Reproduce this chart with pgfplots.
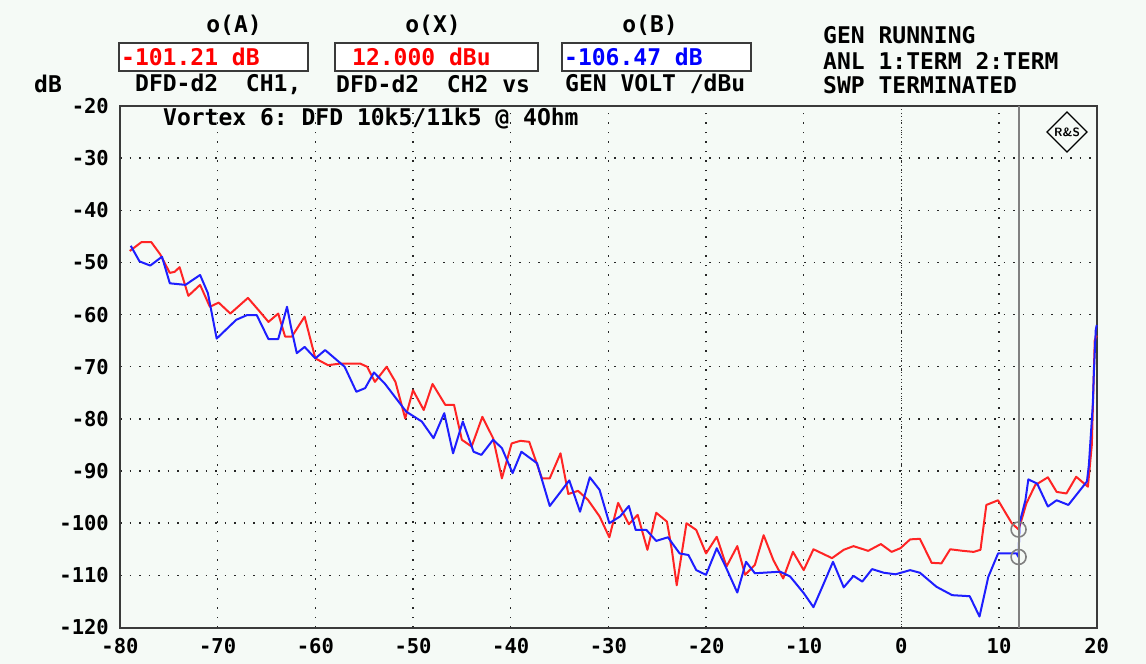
\documentclass[border=0pt]{standalone}
\usepackage{fontspec}
\setmonofont{DejaVu Sans Mono}
\usepackage{pgfplots}
\pgfplotsset{compat=1.18}
\definecolor{bgc}{HTML}{F5FAF6}
\definecolor{rdl}{HTML}{FF2424}
\definecolor{bll}{HTML}{1E1EFF}
\definecolor{frm}{HTML}{3A3A3A}

% measured curves (dB vs generator level in dBu)
\pgfplotstableread{
x y
-79.0 -47.8
-77.8 -46.1
-76.8 -46.1
-75.9 -48.4
-74.9 -52.0
-74.4 -51.8
-73.9 -50.9
-73.0 -56.4
-71.8 -54.3
-70.8 -58.5
-69.9 -57.7
-68.7 -59.8
-66.9 -56.8
-65.7 -59.4
-64.8 -61.4
-63.8 -59.8
-63.1 -64.2
-62.4 -64.2
-61.1 -60.4
-60.0 -68.4
-58.7 -69.7
-57.5 -69.4
-55.4 -69.4
-54.7 -70.0
-53.9 -72.9
-52.7 -70.0
-51.8 -72.9
-50.8 -79.9
-50.0 -74.5
-48.9 -78.3
-48.0 -73.3
-46.7 -77.3
-45.8 -77.3
-45.0 -84.0
-44.0 -85.3
-42.9 -79.6
-41.8 -83.7
-40.9 -91.4
-39.9 -84.7
-39.0 -84.2
-38.1 -84.4
-36.8 -91.4
-36.0 -91.4
-34.9 -86.6
-34.1 -94.4
-33.1 -93.8
-32.1 -95.5
-30.9 -98.7
-29.9 -102.7
-29.0 -96.1
-27.9 -100.2
-27.0 -98.4
-26.0 -105.1
-25.1 -98.0
-24.0 -99.7
-23.5 -105.1
-23.0 -111.9
-22.0 -100.0
-21.0 -101.3
-20.0 -105.8
-18.9 -102.6
-17.9 -108.3
-16.8 -104.4
-16.0 -109.9
-15.0 -108.0
-14.1 -102.3
-13.1 -107.1
-12.1 -110.6
-11.1 -105.5
-10.0 -109.0
-9.0 -105.0
-7.1 -106.7
-5.9 -105.1
-4.9 -104.4
-3.4 -105.3
-2.1 -104.0
-1.0 -105.5
-0.1 -104.8
0.9 -103.1
1.9 -103.0
3.1 -107.6
4.1 -107.7
5.0 -105.0
6.3 -105.3
7.4 -105.5
8.1 -105.1
8.7 -96.5
9.9 -95.6
11.3 -100.0
12.0 -101.2
12.3 -99.4
12.8 -96.2
13.7 -92.7
15.0 -91.2
15.9 -94.0
16.9 -94.3
17.9 -91.1
19.1 -93.0
19.5 -85.0
19.8 -64.9
20.0 -64.0
}\chone

\pgfplotstableread{
x y
-78.9 -46.8
-78.0 -49.8
-76.9 -50.6
-75.7 -48.9
-74.9 -54.0
-73.3 -54.3
-71.8 -52.4
-71.0 -55.9
-70.1 -64.6
-68.1 -61.0
-67.0 -60.1
-66.0 -60.1
-64.8 -64.7
-63.8 -64.7
-62.9 -58.5
-62.5 -62.3
-61.9 -67.4
-61.1 -66.2
-60.0 -68.4
-59.0 -66.8
-57.0 -70.0
-55.8 -74.8
-54.9 -74.1
-54.0 -71.1
-52.9 -73.2
-50.7 -78.6
-49.1 -80.5
-47.9 -83.7
-46.8 -78.9
-45.9 -86.6
-44.9 -80.5
-43.8 -86.3
-43.0 -86.9
-41.8 -84.0
-40.9 -85.6
-39.8 -90.4
-38.9 -86.3
-37.3 -88.5
-36.0 -96.7
-34.0 -91.8
-32.9 -97.8
-31.9 -91.2
-30.9 -93.6
-29.9 -100.0
-28.8 -98.7
-27.9 -96.7
-27.2 -101.3
-26.1 -101.3
-25.1 -103.4
-23.9 -102.7
-22.7 -105.8
-21.8 -106.1
-21.0 -109.0
-20.0 -109.9
-18.9 -104.8
-18.0 -108.3
-16.8 -113.3
-15.9 -107.4
-15.0 -109.6
-12.4 -109.3
-11.4 -110.2
-10.0 -113.4
-9.0 -116.1
-8.0 -111.8
-7.0 -107.4
-5.9 -112.3
-4.9 -110.1
-4.0 -111.2
-3.0 -108.8
-1.8 -109.5
-0.6 -109.8
0.9 -109.0
1.9 -109.5
3.6 -112.2
5.2 -113.8
7.0 -114.0
8.0 -117.9
8.9 -110.3
9.9 -105.8
11.8 -105.8
12.0 -106.5
12.1 -100.0
12.7 -95.6
13.0 -91.6
13.9 -92.4
15.0 -96.8
15.9 -95.6
17.1 -96.5
19.0 -92.0
19.2 -88.8
19.6 -77.3
19.7 -71.6
19.9 -63.0
20.0 -62.0
}\chtwo

\begin{document}
\begin{tikzpicture}[x=1pt,y=1pt]
\useasboundingbox (0,0) rectangle (1146,664);
\fill[bgc] (0,0) rectangle (1146,664);

% header
\begin{scope}[every node/.style={inner sep=0pt,font=\ttfamily\bfseries\fontsize{23}{25}\selectfont}]
\node at (234,639) {o(A)};
\node at (433,639) {o(X)};
\node at (650,639) {o(B)};
\fill[white] (119,593) rectangle (308,621);
\fill[white] (335,593) rectangle (538,621);
\fill[white] (562,593) rectangle (751,621);
\draw[frm,line width=1.5pt] (119,593) rectangle (308,621);
\draw[frm,line width=1.5pt] (335,593) rectangle (538,621);
\draw[frm,line width=1.5pt] (562,593) rectangle (751,621);
\node[anchor=west,red] at (121,607) {-101.21 dB};
\node[anchor=west,red] at (352,607) {12.000 dBu};
\node[anchor=west,blue] at (564,607) {-106.47 dB};
\node[anchor=west] at (34,580) {dB};
\node[anchor=west] at (135,580) {DFD-d2\ \ CH1,};
\node[anchor=west] at (336,580) {DFD-d2\ \ CH2 vs};
\node[anchor=west] at (565,580) {GEN VOLT /dBu};
\node[anchor=west] at (823,629) {GEN RUNNING};
\node[anchor=west] at (823,603) {ANL 1:TERM 2:TERM};
\node[anchor=west] at (823,579) {SWP TERMINATED};
\end{scope}

\begin{axis}[
  at={(120pt,36.5pt)}, anchor=south west,
  scale only axis, width=976.7pt, height=521.5pt,
  xmin=-80, xmax=20, ymin=-120, ymax=-20,
  xtick={-80,-70,...,20}, ytick={-120,-110,...,-20},
  xticklabels={-80,-70,-60,-50,-40,-30,-20,-10,0,10,20},
  yticklabels={-120,-110,-100,-90,-80,-70,-60,-50,-40,-30,-20},
  tick style={draw=none},
  tick label style={font=\ttfamily\bfseries\fontsize{20.5}{22}\selectfont, inner sep=0pt},
  xticklabel style={yshift=-11pt},
  yticklabel style={xshift=-11pt},
  axis line style={frm, line width=2pt},
  grid=major,
  major grid style={black!85, line width=1.5pt, dash pattern=on 1.5pt off 8pt},
  clip=false,
]
\addplot[black!80, line width=1.2pt, dash pattern=on 1pt off 2.5pt] coordinates {(0,-20) (0,-120)};
\addplot[rdl, line width=2pt, line join=round] table {\chone};
\addplot[bll, line width=2pt, line join=round] table {\chtwo};
\addplot[gray, line width=2pt] coordinates {(12,-20) (12,-120)};
\addplot[only marks, mark=o, mark size=7.5pt, gray, mark options={line width=1.6pt}]
  coordinates {(12,-101.21) (12,-106.47)};
\node[anchor=west, inner sep=0pt, font=\ttfamily\bfseries\fontsize{23}{25}\selectfont]
  at (axis cs:-75.6,-22.4) {Vortex 6: DFD 10k5/11k5 @ 4Ohm};
\end{axis}

% R&S logo
\draw[black, line width=1.3pt] (1047,532) -- (1067,552) -- (1087,532) -- (1067,512) -- cycle;
\node[inner sep=0pt, font=\sffamily\bfseries\fontsize{12}{12}\selectfont] at (1067,532) {R\&S};
\end{tikzpicture}
\end{document}
